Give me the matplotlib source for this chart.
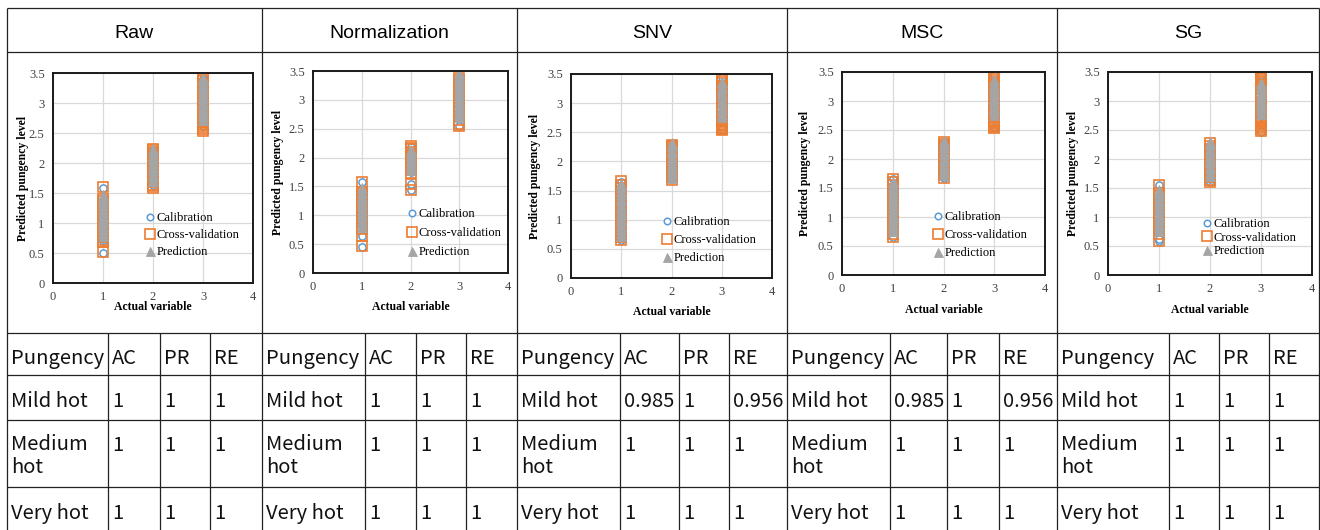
import matplotlib
matplotlib.use('Agg')
import matplotlib.pyplot as plt
from matplotlib import font_manager

# ---- values ----
methods = ['Raw', 'Normalization', 'SNV', 'MSC', 'SG']
classes = [1, 2, 3]
series_names = ['Calibration', 'Cross-validation', 'Prediction']
pungency = ['Mild hot', 'Medium\nhot', 'Very hot']
metric_names = ['AC', 'PR', 'RE']

ac_vals = [[1, 1, 1], [1, 1, 1], [0.985, 1, 1], [0.985, 1, 1], [1, 1, 1]]
pr_vals = [[1, 1, 1], [1, 1, 1], [1, 1, 1], [1, 1, 1], [1, 1, 1]]
re_vals = [[1, 1, 1], [1, 1, 1], [0.956, 1, 1], [0.956, 1, 1], [1, 1, 1]]

# predicted pungency level per actual class (1, 2, 3)
raw_cal = [[0.50, 0.70, 0.74, 0.80, 0.86, 0.92, 0.98, 1.04, 1.10, 1.16, 1.22, 1.28, 1.34, 1.58],
           [1.63, 1.70, 1.76, 1.82, 1.88, 1.94, 2.00, 2.06, 2.12, 2.18, 2.22],
           [2.62, 2.68, 2.75, 2.82, 2.90, 2.97, 3.05, 3.12, 3.20, 3.28, 3.35, 3.40]]
raw_cv = [[0.52, 0.68, 0.72, 0.76, 0.80, 0.85, 0.90, 0.96, 1.02, 1.08, 1.14, 1.20, 1.26, 1.32, 1.36, 1.40, 1.60],
          [1.58, 1.61, 1.64, 1.69, 1.75, 1.81, 1.87, 1.93, 1.99, 2.05, 2.11, 2.15, 2.18, 2.21, 2.24],
          [2.54, 2.57, 2.60, 2.63, 2.66, 2.69, 2.73, 2.80, 2.88, 2.95, 3.03, 3.10, 3.18, 3.25, 3.32, 3.36, 3.39, 3.42]]
raw_pred = [[0.78, 0.84, 0.90, 0.95, 1.01, 1.07, 1.12, 1.18, 1.24, 1.30, 1.36, 1.42, 1.47],
            [1.70, 1.76, 1.82, 1.88, 1.94, 2.00, 2.06, 2.12, 2.18, 2.24],
            [2.72, 2.78, 2.84, 2.90, 2.96, 3.02, 3.08, 3.14, 3.20, 3.26, 3.32, 3.38, 3.42]]

norm_cal = [[0.45, 0.64, 0.82, 0.90, 0.98, 1.06, 1.14, 1.22, 1.30, 1.38, 1.58],
            [1.43, 1.55, 1.75, 1.82, 1.90, 1.98, 2.05, 2.12, 2.18],
            [2.55, 2.70, 2.80, 2.90, 3.00, 3.10, 3.20, 3.30, 3.38]]
norm_cv = [[0.46, 0.64, 0.76, 0.81, 0.87, 0.93, 0.99, 1.05, 1.11, 1.17, 1.23, 1.29, 1.33, 1.37, 1.40, 1.58],
           [1.43, 1.55, 1.73, 1.78, 1.84, 1.90, 1.96, 2.02, 2.06, 2.10, 2.14, 2.17, 2.20],
           [2.54, 2.58, 2.65, 2.72, 2.80, 2.86, 2.90, 2.94, 3.00, 3.06, 3.12, 3.20, 3.27, 3.34, 3.38]]
norm_pred = [[0.80, 0.86, 0.92, 0.98, 1.04, 1.10, 1.16, 1.22, 1.28, 1.34, 1.40, 1.47],
             [1.78, 1.84, 1.90, 1.96, 2.02, 2.08, 2.13],
             [2.70, 2.76, 2.82, 2.88, 2.94, 3.00, 3.06, 3.12, 3.18, 3.24, 3.30, 3.36, 3.42, 3.46]]

snv_cal = [[0.65, 0.72, 0.80, 0.88, 0.96, 1.04, 1.12, 1.20, 1.28, 1.36, 1.44, 1.52, 1.65],
           [1.70, 1.76, 1.84, 1.92, 2.00, 2.08, 2.16, 2.22, 2.28],
           [2.55, 2.75, 2.85, 2.95, 3.05, 3.15, 3.25, 3.35, 3.45]]
snv_cv = [[0.65, 0.70, 0.76, 0.82, 0.88, 0.94, 1.00, 1.06, 1.12, 1.18, 1.24, 1.30, 1.36, 1.42, 1.48, 1.54, 1.60, 1.66],
          [1.68, 1.73, 1.79, 1.85, 1.91, 1.97, 2.03, 2.09, 2.13, 2.17, 2.21, 2.24, 2.26, 2.29],
          [2.54, 2.56, 2.58, 2.61, 2.63, 2.65, 2.68, 2.70, 2.77, 2.85, 2.93, 3.01, 3.09, 3.17, 3.25, 3.30, 3.34, 3.38, 3.43, 3.46]]
snv_pred = [[0.72, 0.78, 0.84, 0.90, 0.96, 1.02, 1.08, 1.14, 1.20, 1.26, 1.32, 1.38, 1.44, 1.50, 1.56, 1.61],
            [1.72, 1.78, 1.84, 1.90, 1.96, 2.02, 2.08, 2.14, 2.20, 2.26, 2.31],
            [2.76, 2.82, 2.88, 2.94, 3.00, 3.06, 3.12, 3.18, 3.24, 3.30, 3.36]]

msc_cal = [[0.65, 0.74, 0.82, 0.90, 0.98, 1.06, 1.14, 1.22, 1.30, 1.38, 1.46, 1.54, 1.65],
           [1.68, 1.75, 1.83, 1.91, 1.99, 2.07, 2.15, 2.22, 2.29],
           [2.55, 2.74, 2.84, 2.94, 3.04, 3.14, 3.24, 3.34, 3.45]]
msc_cv = [[0.66, 0.71, 0.77, 0.83, 0.89, 0.95, 1.01, 1.07, 1.13, 1.19, 1.25, 1.31, 1.37, 1.43, 1.49, 1.55, 1.61, 1.66],
          [1.67, 1.72, 1.78, 1.84, 1.90, 1.96, 2.02, 2.08, 2.12, 2.16, 2.20, 2.23, 2.26, 2.29],
          [2.53, 2.55, 2.57, 2.60, 2.62, 2.64, 2.66, 2.68, 2.75, 2.83, 2.91, 2.99, 3.07, 3.15, 3.23, 3.28, 3.32, 3.36, 3.40, 3.43, 3.46]]
msc_pred = [[0.76, 0.82, 0.88, 0.94, 1.00, 1.06, 1.12, 1.18, 1.24, 1.30, 1.36, 1.42, 1.48, 1.54, 1.60],
            [1.72, 1.78, 1.84, 1.90, 1.96, 2.02, 2.08, 2.14, 2.20, 2.26, 2.31],
            [2.76, 2.82, 2.88, 2.94, 3.00, 3.06, 3.12, 3.18, 3.24, 3.30, 3.36]]

sg_cal = [[0.58, 0.62, 0.75, 0.83, 0.91, 0.99, 1.07, 1.15, 1.23, 1.31, 1.39, 1.56],
          [1.60, 1.65, 1.75, 1.85, 1.95, 2.05, 2.15, 2.25],
          [2.47, 2.75, 2.85, 2.95, 3.05, 3.15, 3.25, 3.35, 3.45]]
sg_cv = [[0.58, 0.71, 0.76, 0.82, 0.88, 0.94, 1.00, 1.06, 1.12, 1.18, 1.24, 1.30, 1.36, 1.41, 1.56],
         [1.60, 1.64, 1.69, 1.75, 1.81, 1.87, 1.93, 1.99, 2.05, 2.11, 2.17, 2.23, 2.28],
         [2.49, 2.52, 2.55, 2.57, 2.60, 2.62, 2.64, 2.66, 2.68, 2.71, 2.73, 2.80, 2.88, 2.96, 3.04, 3.12,
          3.20, 3.28, 3.32, 3.35, 3.38, 3.40, 3.42, 3.44, 3.47]]
sg_pred = [[0.76, 0.82, 0.88, 0.94, 1.00, 1.06, 1.12, 1.18, 1.24, 1.30, 1.36, 1.42, 1.46],
           [1.70, 1.76, 1.82, 1.88, 1.94, 2.00, 2.06, 2.12, 2.18, 2.24, 2.30],
           [2.78, 2.84, 2.90, 2.96, 3.02, 3.08, 3.14, 3.20, 3.26, 3.31]]

panel_data = [(raw_cal, raw_cv, raw_pred), (norm_cal, norm_cv, norm_pred),
              (snv_cal, snv_cv, snv_pred), (msc_cal, msc_cv, msc_pred),
              (sg_cal, sg_cv, sg_pred)]

# ---- layout (pixels of a 1320x530 canvas) ----
W, H = 1320, 530
col_lines = [(7, 108, 160, 210, 262), (262, 365, 416, 466, 517),
             (517, 620, 679, 729, 787), (787, 890, 947, 999, 1057),
             (1057, 1169, 1219, 1269, 1319)]
row_lines = [333, 375, 420, 487]
row_baselines = [364, 407, 451, 519]
line_step = 22
# plot frame: left, top, right, bottom
plot_boxes = [(53, 73, 253, 283), (313, 71, 508, 273), (571, 74, 772, 278),
              (842, 72, 1045, 275), (1108, 72, 1312, 275)]
ylabel_x = [29, 284, 541, 811, 1079]
xlabel_top = [301, 301, 306, 304, 304]
legend_pos = [(150, 219, 19), (412, 215, 21), (667, 223, 20), (938, 218, 20), (1207, 225, 15.5)]

BLUE, ORANGE, GRAY = '#5B9BD5', '#ED7D31', '#A5A5A5'
styles = [dict(marker='o', ms=5.2, mfc='white', mec=BLUE, mew=1.1),
          dict(marker='s', ms=7.4, mfc='none', mec=ORANGE, mew=1.2),
          dict(marker='^', ms=7.2, mfc=GRAY, mec=GRAY, mew=0.6)]

names = {f.name for f in font_manager.fontManager.ttflist}
if 'Liberation Sans Narrow' in names:
    body_font, body_size = 'Liberation Sans Narrow', 16.5
else:
    body_font, body_size = 'Noto Sans CJK KR', 14.5

plt.rcParams['font.family'] = 'Liberation Serif'

fig = plt.figure(figsize=(W / 100, H / 100), dpi=100)
bg = fig.add_axes([0, 0, 1, 1], zorder=0)
bg.set_xlim(0, W)
bg.set_ylim(H, 0)
bg.axis('off')

line_kw = dict(color='#222222', lw=0.9)
bg.hlines([8, 52], 7, 1319, **line_kw)
bg.hlines(row_lines, 7, 1319, **line_kw)
bg.vlines([c[0] for c in col_lines] + [1319], 8, H, **line_kw)
for k, cols in enumerate(col_lines):
    bg.vlines(cols[1:4], row_lines[0], H, **line_kw)
    bg.text((cols[0] + cols[4]) / 2, 38, methods[k], ha='center', va='baseline',
            family='Liberation Sans', fontsize=14)
    txt = dict(va='baseline', ha='left', family=body_font, fontsize=body_size, color='#111111')
    bg.text(cols[0] + 4, row_baselines[0], 'Pungency', **txt)
    for j, m in enumerate(metric_names):
        bg.text(cols[j + 1] + 4, row_baselines[0], m, **txt)
    for i, p in enumerate(pungency):
        yb = row_baselines[i + 1]
        # multi-line labels are anchored on their last baseline
        bg.text(cols[0] + 4, yb + line_step * p.count('\n'), p, linespacing=1.12, **txt)
        for j, vals in enumerate([ac_vals, pr_vals, re_vals]):
            bg.text(cols[j + 1] + 4, yb, f'{vals[k][i]:g}', **txt)

leg_fs = 9
for k, (l, t, r, b) in enumerate(plot_boxes):
    ax = fig.add_axes([l / W, 1 - b / H, (r - l) / W, (b - t) / H], zorder=2)
    handles = []
    for s, series in enumerate(panel_data[k]):
        for c, ys in zip(classes, series):
            h, = ax.plot([c] * len(ys), ys, ls='none', label=series_names[s], **styles[s])
        handles.append(h)
    ax.set_xlim(0, 4)
    ax.set_ylim(0, 3.5)
    ax.set_xticks([0, 1, 2, 3, 4])
    ax.set_yticks([0, 0.5, 1, 1.5, 2, 2.5, 3, 3.5])
    ax.set_yticklabels(['0', '0.5', '1', '1.5', '2', '2.5', '3', '3.5'])
    ax.grid(True, color='#D9D9D9', lw=0.9)
    ax.set_axisbelow(True)
    ax.tick_params(length=0, labelsize=9, labelcolor='#404040', pad=6)
    for sp in ax.spines.values():
        sp.set_color('#1a1a1a')
        sp.set_linewidth(1.4)
    ax.set_ylabel('Predicted pungency level', fontsize=8.5, fontweight='bold')
    ax.yaxis.set_label_coords((ylabel_x[k] - l) / (r - l), 0.5)
    ax.set_xlabel('Actual variable', fontsize=8.5, fontweight='bold')
    ax.xaxis.set_label_coords(0.5, -(xlabel_top[k] - b) / (b - t))

    mx, my, gap = legend_pos[k]
    fs_px = leg_fs * 100 / 72
    row_h = 1.107 * fs_px
    hl = 0.7
    anchor = ((mx - hl * fs_px / 2 - l) / (r - l), (b - (my - row_h / 2)) / (b - t))
    ax.legend(handles=handles, loc='upper left', bbox_to_anchor=anchor, frameon=False,
              borderpad=0, borderaxespad=0, handlelength=hl, handletextpad=0.15,
              labelspacing=max(gap - row_h, 1) / fs_px, fontsize=leg_fs, numpoints=1,
              markerscale=0.9)

fig.savefig('out.png', dpi=100, facecolor='white')
